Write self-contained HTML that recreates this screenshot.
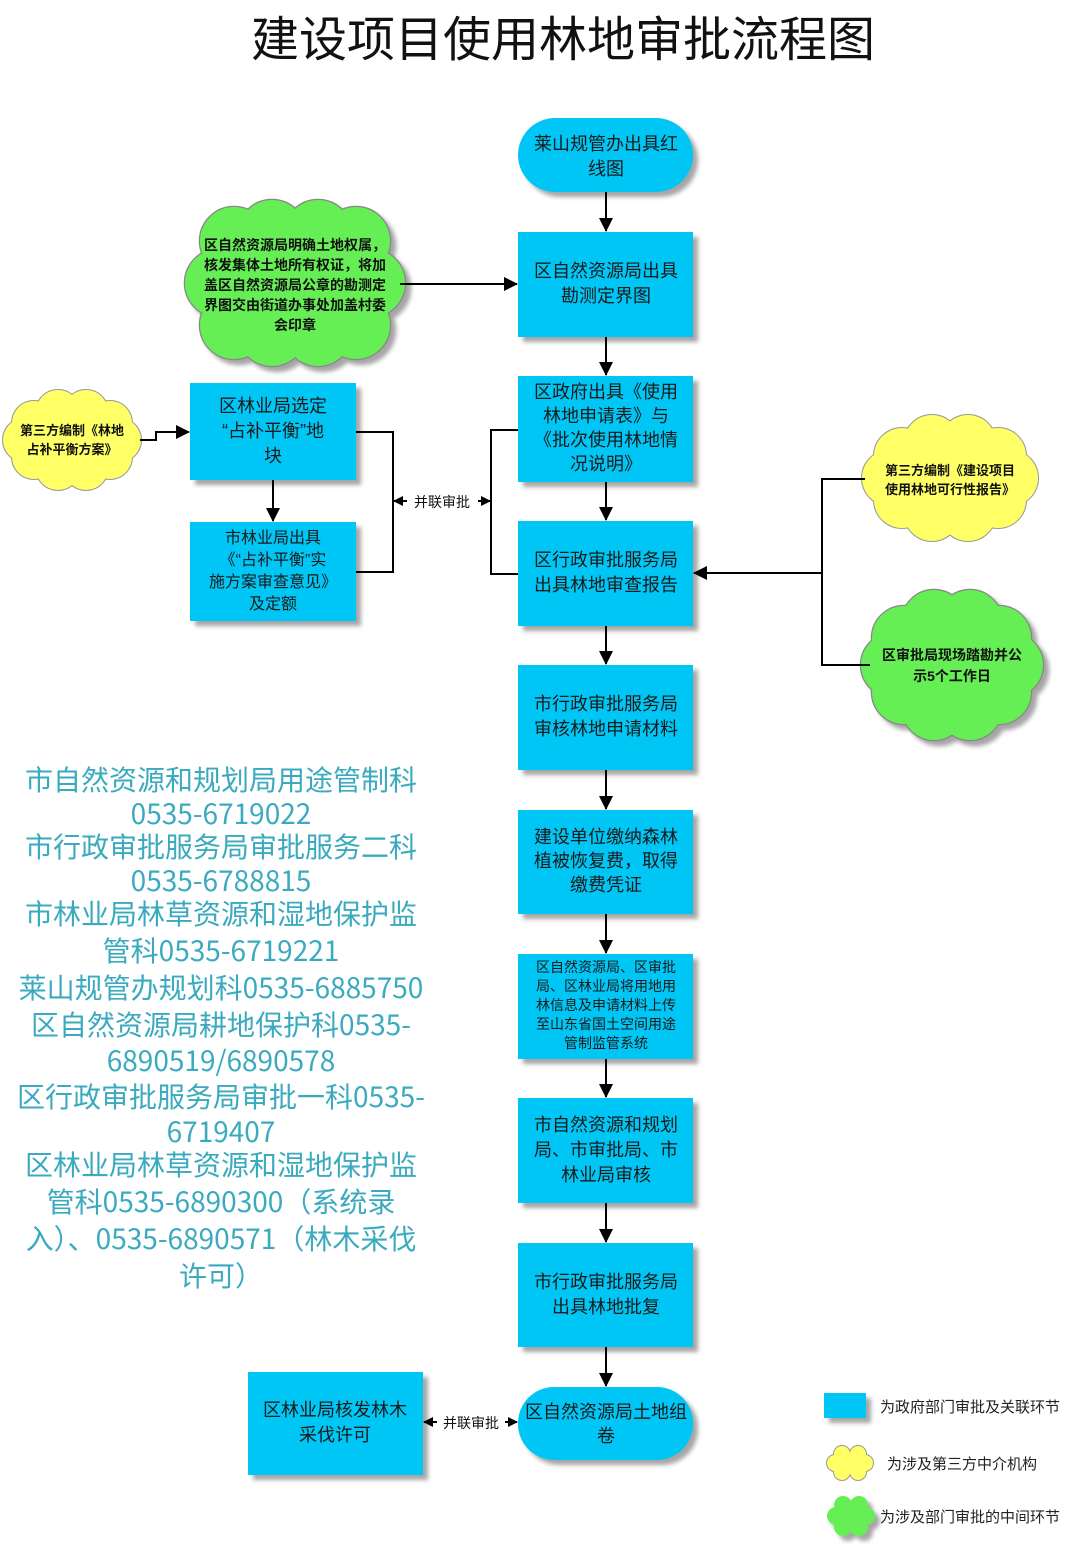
<!DOCTYPE html>
<html><head><meta charset="utf-8">
<style>
html,body{margin:0;padding:0;background:#fff;}
svg{display:block;}
text{font-family:"Liberation Sans","Noto Sans CJK SC",sans-serif;}
.b{fill:#00c6f5;}
.sh{filter:drop-shadow(5px 5px 2px rgba(0,0,0,0.35));}
.t{font-size:18px;fill:#1a1a1a;text-anchor:middle;}
.c{font-size:14px;font-weight:bold;fill:#111;text-anchor:middle;}
.k{font-size:28px;fill:#3aaabf;text-anchor:middle;font-family:"Noto Sans CJK SC",sans-serif;}
.ln{stroke:#000;stroke-width:2;fill:none;}
.co{stroke:#888;stroke-width:2.5;}
</style></head><body>
<svg width="1080" height="1548" viewBox="0 0 1080 1548">
<defs>
<marker id="a" markerWidth="10" markerHeight="10" refX="9" refY="5" orient="auto" markerUnits="userSpaceOnUse">
<path d="M0,0 L10,5 L0,10 z" fill="#000"/></marker>
<marker id="a2" markerWidth="14" markerHeight="14" refX="13" refY="7" orient="auto" markerUnits="userSpaceOnUse">
<path d="M0,0 L14,7 L0,14 z" fill="#000"/></marker>
<g id="cg1"><ellipse cx="295" cy="283" rx="80" ry="55"/><circle cx="371" cy="283" r="34"/><circle cx="356" cy="325" r="34"/><circle cx="318" cy="332" r="34"/><circle cx="272" cy="332" r="34"/><circle cx="234" cy="325" r="34"/><circle cx="219" cy="283" r="34"/><circle cx="234" cy="241" r="34"/><circle cx="272" cy="234" r="34"/><circle cx="318" cy="234" r="34"/><circle cx="356" cy="241" r="34"/></g>
<g id="cy1"><ellipse cx="72" cy="440" rx="55" ry="35"/><circle cx="119" cy="440" r="22"/><circle cx="110" cy="457" r="22"/><circle cx="86" cy="468" r="22"/><circle cx="58" cy="468" r="22"/><circle cx="34" cy="457" r="22"/><circle cx="25" cy="440" r="22"/><circle cx="34" cy="423" r="22"/><circle cx="58" cy="412" r="22"/><circle cx="86" cy="412" r="22"/><circle cx="110" cy="423" r="22"/></g>
<g id="cy2"><ellipse cx="950" cy="478" rx="70" ry="42"/><circle cx="1010" cy="478" r="28"/><circle cx="998" cy="500" r="28"/><circle cx="968" cy="513" r="28"/><circle cx="932" cy="513" r="28"/><circle cx="902" cy="500" r="28"/><circle cx="890" cy="478" r="28"/><circle cx="902" cy="456" r="28"/><circle cx="932" cy="443" r="28"/><circle cx="968" cy="443" r="28"/><circle cx="998" cy="456" r="28"/></g>
<g id="cg2"><ellipse cx="952" cy="665" rx="70" ry="52"/><circle cx="1011" cy="665" r="32"/><circle cx="999" cy="692" r="32"/><circle cx="970" cy="708" r="32"/><circle cx="934" cy="708" r="32"/><circle cx="904" cy="692" r="32"/><circle cx="893" cy="665" r="32"/><circle cx="904" cy="638" r="32"/><circle cx="934" cy="622" r="32"/><circle cx="970" cy="622" r="32"/><circle cx="999" cy="638" r="32"/></g>
<g id="ly"><ellipse cx="850" cy="1463" rx="16" ry="10"/><circle cx="865" cy="1463" r="8"/><circle cx="858" cy="1472" r="8"/><circle cx="842" cy="1472" r="8"/><circle cx="835" cy="1463" r="8"/><circle cx="842" cy="1454" r="8"/><circle cx="858" cy="1454" r="8"/></g>
<g id="lg"><ellipse cx="851" cy="1516" rx="15" ry="12"/><circle cx="866" cy="1516" r="9"/><circle cx="859" cy="1527" r="9"/><circle cx="843" cy="1527" r="9"/><circle cx="836" cy="1516" r="9"/><circle cx="843" cy="1505" r="9"/><circle cx="859" cy="1505" r="9"/></g>
</defs>

<text x="563" y="56" style="font-size:48px;fill:#111;text-anchor:middle;">建设项目使用林地审批流程图</text>

<g class="sh"><use href="#cg1" fill="#66ee55" class="co"/></g><use href="#cg1" fill="#66ee55"/>
<g class="sh"><use href="#cg2" fill="#66ee55" class="co"/></g><use href="#cg2" fill="#66ee55"/>
<use href="#cy1" fill="#ffff66" stroke="#999" stroke-width="2"/><use href="#cy1" fill="#ffff66"/>
<use href="#cy2" fill="#ffff66" stroke="#999" stroke-width="2"/><use href="#cy2" fill="#ffff66"/>
<use href="#ly" fill="#ffff66" stroke="#999" stroke-width="2"/><use href="#ly" fill="#ffff66"/>
<g class="sh"><use href="#lg" fill="#66ee55"/></g>

<g class="sh">
<rect class="b" x="518" y="118" width="175" height="74" rx="37"/>
<rect class="b" x="518" y="232" width="175" height="105"/>
<rect class="b" x="518" y="376" width="175" height="106"/>
<rect class="b" x="518" y="521" width="175" height="105"/>
<rect class="b" x="518" y="665" width="175" height="105"/>
<rect class="b" x="518" y="810" width="175" height="104"/>
<rect class="b" x="518" y="954" width="175" height="105"/>
<rect class="b" x="518" y="1098" width="175" height="105"/>
<rect class="b" x="518" y="1243" width="175" height="104"/>
<rect class="b" x="518" y="1387" width="175" height="73" rx="36"/>
<rect class="b" x="190" y="383" width="166" height="97"/>
<rect class="b" x="190" y="522" width="166" height="99"/>
<rect class="b" x="248" y="1372" width="175" height="103"/>
<rect class="b" x="824" y="1393" width="42" height="25"/>
</g>

<text class="t"><tspan x="606" y="150">莱山规管办出具红</tspan><tspan x="606" y="175">线图</tspan></text>
<text class="t"><tspan x="606" y="277">区自然资源局出具</tspan><tspan x="606" y="302">勘测定界图</tspan></text>
<text class="t"><tspan x="606" y="398">区政府出具《使用</tspan><tspan x="606" y="422">林地申请表》与</tspan><tspan x="606" y="446">《批次使用林地情</tspan><tspan x="606" y="470">况说明》</tspan></text>
<text class="t"><tspan x="606" y="566">区行政审批服务局</tspan><tspan x="606" y="591">出具林地审查报告</tspan></text>
<text class="t"><tspan x="606" y="710">市行政审批服务局</tspan><tspan x="606" y="735">审核林地申请材料</tspan></text>
<text class="t"><tspan x="606" y="843">建设单位缴纳森林</tspan><tspan x="606" y="867">植被恢复费，取得</tspan><tspan x="606" y="891">缴费凭证</tspan></text>
<text style="font-size:14px;fill:#1a1a1a;text-anchor:middle;"><tspan x="606" y="972">区自然资源局、区审批</tspan><tspan x="606" y="991">局、区林业局将用地用</tspan><tspan x="606" y="1010">林信息及申请材料上传</tspan><tspan x="606" y="1029">至山东省国土空间用途</tspan><tspan x="606" y="1048">管制监管系统</tspan></text>
<text class="t"><tspan x="606" y="1131">市自然资源和规划</tspan><tspan x="606" y="1156">局、市审批局、市</tspan><tspan x="606" y="1181">林业局审核</tspan></text>
<text class="t"><tspan x="606" y="1288">市行政审批服务局</tspan><tspan x="606" y="1313">出具林地批复</tspan></text>
<text class="t"><tspan x="606" y="1418">区自然资源局土地组</tspan><tspan x="606" y="1442">卷</tspan></text>
<text class="t"><tspan x="273" y="412">区林业局选定</tspan><tspan x="273" y="437">“占补平衡”地</tspan><tspan x="273" y="462">块</tspan></text>
<text style="font-size:16px;fill:#1a1a1a;text-anchor:middle;"><tspan x="273" y="543">市林业局出具</tspan><tspan x="273" y="565">《“占补平衡”实</tspan><tspan x="273" y="587">施方案审查意见》</tspan><tspan x="273" y="609">及定额</tspan></text>
<text class="t"><tspan x="335" y="1416">区林业局核发林木</tspan><tspan x="335" y="1441">采伐许可</tspan></text>

<text class="c"><tspan x="295" y="250">区自然资源局明确土地权属，</tspan><tspan x="295" y="270">核发集体土地所有权证，将加</tspan><tspan x="295" y="290">盖区自然资源局公章的勘测定</tspan><tspan x="295" y="310">界图交由街道办事处加盖村委</tspan><tspan x="295" y="330">会印章</tspan></text>
<text class="c" style="font-size:13px"><tspan x="72" y="435">第三方编制《林地</tspan><tspan x="72" y="454">占补平衡方案》</tspan></text>
<text class="c" style="font-size:13px"><tspan x="950" y="475">第三方编制《建设项目</tspan><tspan x="950" y="494">使用林地可行性报告》</tspan></text>
<text class="c"><tspan x="952" y="660">区审批局现场踏勘并公</tspan><tspan x="952" y="681">示5个工作日</tspan></text>

<g class="ln">
<line x1="606" y1="192" x2="606" y2="231" marker-end="url(#a2)"/>
<line x1="606" y1="337" x2="606" y2="375" marker-end="url(#a2)"/>
<line x1="606" y1="482" x2="606" y2="520" marker-end="url(#a2)"/>
<line x1="606" y1="626" x2="606" y2="664" marker-end="url(#a2)"/>
<line x1="606" y1="770" x2="606" y2="809" marker-end="url(#a2)"/>
<line x1="606" y1="914" x2="606" y2="953" marker-end="url(#a2)"/>
<line x1="606" y1="1059" x2="606" y2="1097" marker-end="url(#a2)"/>
<line x1="606" y1="1203" x2="606" y2="1242" marker-end="url(#a2)"/>
<line x1="606" y1="1347" x2="606" y2="1386" marker-end="url(#a2)"/>
<line x1="400" y1="284" x2="517" y2="284" marker-end="url(#a2)"/>
<polyline points="140,440 156,440 156,432 189,432" marker-end="url(#a2)"/>
<line x1="273" y1="480" x2="273" y2="521" marker-end="url(#a2)"/>
<polyline points="356,432 393,432 393,572 356,572"/>
<polyline points="518,430 491,430 491,574 518,574"/>
<polyline points="865,479 822,479 822,665 870,665"/>
<line x1="822" y1="573" x2="694" y2="573" marker-end="url(#a2)"/>
<line x1="407" y1="501" x2="394" y2="501" marker-end="url(#a)"/>
<line x1="478" y1="501" x2="490" y2="501" marker-end="url(#a)"/>
<line x1="437" y1="1422" x2="424" y2="1422" marker-end="url(#a)"/>
<line x1="505" y1="1422" x2="517" y2="1422" marker-end="url(#a)"/>
</g>
<text x="442" y="507" style="font-size:14px;fill:#111;text-anchor:middle;">并联审批</text>
<text x="471" y="1428" style="font-size:14px;fill:#111;text-anchor:middle;">并联审批</text>

<text class="k"><tspan x="221" y="790">市自然资源和规划局用途管制科</tspan><tspan x="221" y="824">0535-6719022</tspan><tspan x="221" y="857">市行政审批服务局审批服务二科</tspan><tspan x="221" y="891">0535-6788815</tspan><tspan x="221" y="924">市林业局林草资源和湿地保护监</tspan><tspan x="221" y="961">管科0535-6719221</tspan><tspan x="221" y="998">莱山规管办规划科0535-6885750</tspan><tspan x="221" y="1035">区自然资源局耕地保护科0535-</tspan><tspan x="221" y="1071">6890519/6890578</tspan><tspan x="221" y="1107">区行政审批服务局审批一科0535-</tspan><tspan x="221" y="1142">6719407</tspan><tspan x="221" y="1175">区林业局林草资源和湿地保护监</tspan><tspan x="221" y="1212">管科0535-6890300（系统录</tspan><tspan x="221" y="1249">入）、0535-6890571（林木采伐</tspan><tspan x="221" y="1286">许可）</tspan></text>

<text x="880" y="1412" style="font-size:15px;fill:#222;">为政府部门审批及关联环节</text>
<text x="887" y="1469" style="font-size:15px;fill:#222;">为涉及第三方中介机构</text>
<text x="880" y="1522" style="font-size:15px;fill:#222;">为涉及部门审批的中间环节</text>
</svg>
</body></html>
